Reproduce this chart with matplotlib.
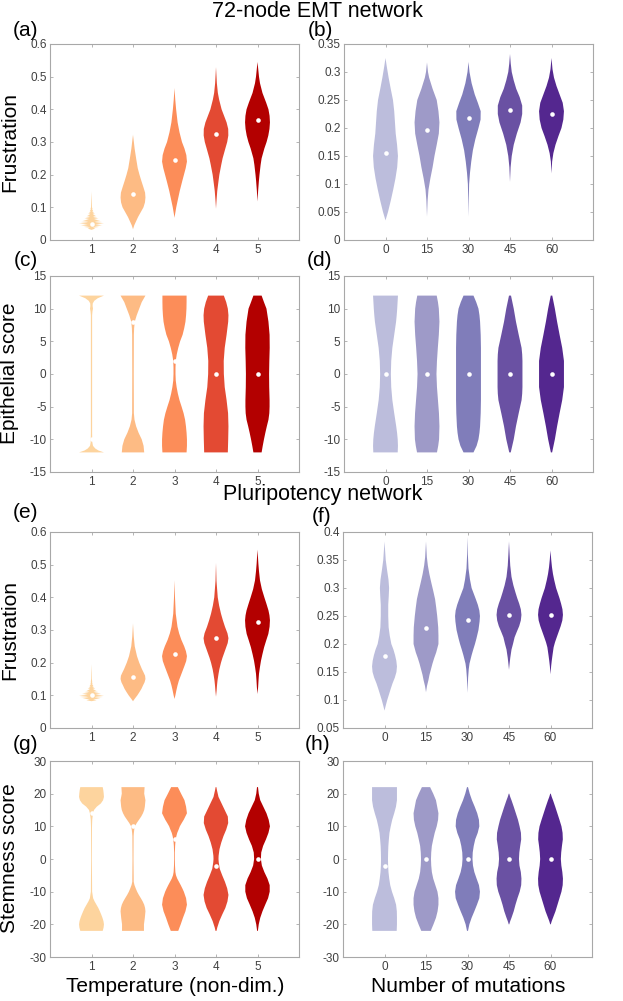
import matplotlib
matplotlib.use("Agg")
import matplotlib.pyplot as plt
from matplotlib.ticker import FuncFormatter
import numpy as np

plt.rcParams['font.family'] = ['Liberation Sans', 'DejaVu Sans']

temp_labels = ['1', '2', '3', '4', '5']
mut_labels = ['0', '15', '30', '45', '60']

oranges = ['#fdd49e', '#fdbb84', '#fc8d59', '#e34a33', '#b30000']
purples = ['#bcbddc', '#9e9ac8', '#807dba', '#6a51a3', '#54278f']

# each violin: value levels and relative half-width (1 = widest point)
# (a) EMT, frustration vs temperature
a_y = [
    [0.031, 0.035, 0.0375, 0.04, 0.0425, 0.045, 0.0475, 0.05, 0.0525, 0.055, 0.0575, 0.06, 0.0625, 0.065,
     0.0675, 0.07, 0.0725, 0.075, 0.0775, 0.08, 0.0825, 0.085, 0.0875, 0.09, 0.0925, 0.095, 0.1, 0.12, 0.148],
    [0.033, 0.045, 0.06, 0.07, 0.085, 0.1, 0.115, 0.13, 0.145, 0.16, 0.18, 0.2, 0.22, 0.25, 0.28, 0.3, 0.322],
    [0.068, 0.08, 0.1, 0.12, 0.15, 0.18, 0.2, 0.22, 0.24, 0.26, 0.28, 0.3, 0.33, 0.36, 0.4, 0.43, 0.465],
    [0.096, 0.12, 0.15, 0.18, 0.2, 0.23, 0.25, 0.28, 0.3, 0.32, 0.34, 0.36, 0.38, 0.4, 0.43, 0.45, 0.48, 0.529],
    [0.118, 0.15, 0.18, 0.2, 0.23, 0.25, 0.28, 0.3, 0.32, 0.34, 0.36, 0.38, 0.4, 0.42, 0.45, 0.48, 0.5, 0.545],
]
a_w = [
    [0, 0.3, 0.12, 0.6, 0.22, 0.85, 0.3, 1.0, 0.3, 0.85, 0.25, 0.7, 0.2, 0.55, 0.16, 0.45, 0.12, 0.35, 0.1,
     0.27, 0.08, 0.2, 0.06, 0.13, 0.05, 0.08, 0.04, 0.025, 0],
    [0, 0.1, 0.28, 0.4, 0.62, 0.84, 0.96, 1.0, 0.97, 0.85, 0.68, 0.52, 0.38, 0.25, 0.13, 0.07, 0],
    [0, 0.05, 0.14, 0.25, 0.42, 0.62, 0.76, 0.9, 1.0, 0.95, 0.8, 0.6, 0.4, 0.25, 0.13, 0.06, 0],
    [0, 0.04, 0.1, 0.2, 0.27, 0.42, 0.53, 0.75, 0.9, 0.99, 0.98, 0.85, 0.65, 0.45, 0.25, 0.15, 0.07, 0],
    [0, 0.05, 0.11, 0.16, 0.25, 0.33, 0.55, 0.73, 0.87, 0.96, 1.0, 0.97, 0.88, 0.7, 0.4, 0.2, 0.12, 0],
]
a_med = [0.05, 0.14, 0.246, 0.323, 0.366]

# (b) EMT, frustration vs mutations
b_y = [
    [0.035, 0.05, 0.07, 0.09, 0.11, 0.13, 0.15, 0.17, 0.19, 0.21, 0.23, 0.25, 0.27, 0.29, 0.31, 0.325],
    [0.042, 0.07, 0.09, 0.11, 0.13, 0.15, 0.17, 0.19, 0.21, 0.23, 0.25, 0.27, 0.29, 0.3, 0.317],
    [0.042, 0.07, 0.1, 0.12, 0.14, 0.16, 0.18, 0.2, 0.215, 0.23, 0.245, 0.26, 0.28, 0.3, 0.318],
    [0.104, 0.13, 0.15, 0.17, 0.19, 0.21, 0.225, 0.24, 0.255, 0.27, 0.285, 0.3, 0.315, 0.332],
    [0.119, 0.14, 0.155, 0.17, 0.185, 0.2, 0.215, 0.23, 0.245, 0.26, 0.275, 0.29, 0.305, 0.325],
]
b_w = [
    [0, 0.2, 0.42, 0.62, 0.8, 0.94, 1.0, 0.93, 0.82, 0.76, 0.7, 0.6, 0.42, 0.25, 0.1, 0],
    [0, 0.05, 0.12, 0.27, 0.45, 0.6, 0.78, 0.95, 1.0, 0.92, 0.78, 0.45, 0.17, 0.08, 0],
    [0, 0.02, 0.05, 0.12, 0.22, 0.35, 0.55, 0.8, 0.97, 0.98, 0.75, 0.5, 0.25, 0.08, 0],
    [0, 0.05, 0.14, 0.3, 0.55, 0.85, 0.98, 0.98, 0.78, 0.5, 0.3, 0.14, 0.06, 0],
    [0, 0.05, 0.15, 0.32, 0.55, 0.8, 0.95, 1.0, 0.9, 0.65, 0.4, 0.2, 0.08, 0],
]
b_med = [0.155, 0.197, 0.218, 0.232, 0.225]

# (c) EMT, epithelial score vs temperature
c_y = [
    [-12, -11.7, -11.4, -11, -10.5, -10, -9, 0, 9, 9.6, 10, 10.4, 10.8, 11.2, 11.6, 12],
    [-12, -11, -10, -9, -8, -7, -6, 0, 6, 7, 8, 9, 10, 11, 12],
    [-12, -11, -10, -9, -8, -7, -6, -5, -4, -3, -2, -1, 0, 1, 2, 3, 4, 5, 6, 7, 8, 9, 10, 11, 12],
    [-12, -10, -8, -6, -4, -2, 0, 2, 4, 6, 8, 9, 10, 11, 12],
    [-12, -11, -10, -9, -8, -7, -6, -5, -4, -2, 0, 2, 4, 6, 8, 9, 10, 11, 12],
]
c_w = [
    [1.0, 0.55, 0.3, 0.12, 0.07, 0.06, 0.05, 0.05, 0.05, 0.08, 0.12, 0.09, 0.1, 0.22, 0.5, 1.0],
    [0.9, 0.85, 0.7, 0.45, 0.25, 0.12, 0.07, 0.06, 0.07, 0.09, 0.14, 0.3, 0.5, 0.7, 1.0],
    [0.97, 1.0, 1.0, 0.97, 0.92, 0.85, 0.73, 0.57, 0.4, 0.27, 0.17, 0.1, 0.08, 0.08, 0.1, 0.18, 0.3, 0.45,
     0.65, 0.78, 0.88, 0.93, 0.96, 0.97, 0.97],
    [0.95, 0.98, 1.0, 0.97, 0.85, 0.7, 0.63, 0.62, 0.7, 0.85, 0.98, 1.0, 0.95, 0.82, 0.63],
    [0.33, 0.42, 0.52, 0.63, 0.75, 0.88, 0.95, 0.97, 0.97, 0.94, 0.93, 0.95, 0.98, 0.97, 0.88, 0.8, 0.72,
     0.52, 0.33],
]
c_med = [-10, 8, 2, 0, 0]

# (d) EMT, epithelial score vs mutations
d_y = [
    [-12, -11, -10, -9, -8, -6, -4, -2, 0, 2, 4, 6, 8, 9, 10, 11, 12],
    [-12, -11, -10, -8, -6, -4, -2, 0, 2, 4, 6, 8, 10, 11, 12],
    [-12, -11, -10, -9, -8, -6, -4, -2, 0, 2, 4, 6, 8, 9, 10, 11, 12],
    [-12, -10, -8, -6, -4, -3, -2, 0, 2, 3, 4, 6, 8, 10, 12],
    [-12, -10, -8, -6, -4, -2, 0, 2, 4, 6, 8, 10, 12],
]
d_w = [
    [0.98, 1.0, 0.98, 0.93, 0.86, 0.7, 0.55, 0.46, 0.43, 0.46, 0.55, 0.7, 0.85, 0.9, 0.94, 0.97, 1.0],
    [0.8, 0.9, 0.97, 1.0, 0.96, 0.88, 0.8, 0.76, 0.8, 0.87, 0.95, 1.0, 0.95, 0.88, 0.78],
    [0.4, 0.65, 0.8, 0.88, 0.93, 0.98, 1.0, 1.0, 1.0, 1.0, 1.0, 0.98, 0.93, 0.88, 0.8, 0.62, 0.4],
    [0.06, 0.3, 0.48, 0.7, 0.93, 0.98, 1.0, 1.0, 1.0, 0.98, 0.93, 0.7, 0.48, 0.3, 0.08],
    [0.05, 0.27, 0.45, 0.65, 0.86, 1.0, 1.0, 1.0, 0.86, 0.65, 0.45, 0.27, 0.06],
]
d_med = [0, 0, 0, 0, 0]

# (e) pluripotency, frustration vs temperature
e_y = [
    [0.082, 0.085, 0.0875, 0.09, 0.0925, 0.095, 0.0975, 0.1, 0.1025, 0.105, 0.1075, 0.11, 0.1125, 0.115,
     0.1175, 0.12, 0.1225, 0.125, 0.1275, 0.13, 0.1325, 0.135, 0.1375, 0.14, 0.15, 0.17, 0.195],
    [0.082, 0.09, 0.1, 0.11, 0.12, 0.13, 0.14, 0.15, 0.16, 0.17, 0.18, 0.2, 0.22, 0.25, 0.28, 0.3, 0.32],
    [0.089, 0.1, 0.115, 0.13, 0.145, 0.16, 0.175, 0.19, 0.205, 0.22, 0.235, 0.25, 0.27, 0.29, 0.31, 0.35,
     0.4, 0.452],
    [0.096, 0.115, 0.13, 0.145, 0.165, 0.18, 0.2, 0.215, 0.23, 0.245, 0.26, 0.275, 0.29, 0.31, 0.33, 0.35,
     0.375, 0.4, 0.45, 0.505],
    [0.104, 0.125, 0.145, 0.166, 0.185, 0.206, 0.225, 0.247, 0.268, 0.288, 0.31, 0.33, 0.345, 0.36, 0.38,
     0.4, 0.425, 0.452, 0.48, 0.503, 0.546],
]
e_w = [
    [0, 0.4, 0.14, 0.7, 0.24, 0.9, 0.3, 1.0, 0.3, 0.75, 0.22, 0.55, 0.17, 0.4, 0.12, 0.3, 0.09, 0.22, 0.07,
     0.15, 0.05, 0.1, 0.04, 0.06, 0.03, 0.02, 0],
    [0, 0.15, 0.35, 0.52, 0.68, 0.8, 0.93, 1.0, 0.97, 0.85, 0.72, 0.5, 0.32, 0.14, 0.06, 0.03, 0],
    [0, 0.07, 0.15, 0.24, 0.35, 0.5, 0.65, 0.8, 0.94, 1.0, 0.92, 0.78, 0.55, 0.37, 0.24, 0.1, 0.04, 0],
    [0, 0.05, 0.08, 0.12, 0.2, 0.27, 0.4, 0.52, 0.66, 0.8, 0.94, 1.0, 0.92, 0.72, 0.55, 0.4, 0.25, 0.14,
     0.04, 0],
    [0, 0.05, 0.08, 0.12, 0.19, 0.28, 0.39, 0.53, 0.7, 0.87, 0.97, 1.0, 0.96, 0.88, 0.72, 0.55, 0.35, 0.2,
     0.12, 0.07, 0],
]
e_med = [0.1, 0.155, 0.228, 0.276, 0.325]

# (f) pluripotency, frustration vs mutations
f_y = [
    [0.081, 0.09, 0.1, 0.11, 0.12, 0.13, 0.14, 0.15, 0.16, 0.17, 0.18, 0.19, 0.2, 0.215, 0.23, 0.25, 0.27,
     0.285, 0.3, 0.315, 0.33, 0.35, 0.383],
    [0.114, 0.125, 0.135, 0.145, 0.155, 0.165, 0.175, 0.185, 0.2, 0.215, 0.23, 0.25, 0.265, 0.28, 0.295,
     0.31, 0.325, 0.34, 0.355, 0.383],
    [0.113, 0.13, 0.14, 0.155, 0.165, 0.18, 0.19, 0.2, 0.21, 0.225, 0.24, 0.25, 0.26, 0.27, 0.28, 0.29, 0.3,
     0.315, 0.335, 0.36, 0.391],
    [0.154, 0.165, 0.175, 0.19, 0.2, 0.212, 0.222, 0.232, 0.242, 0.252, 0.262, 0.272, 0.282, 0.292, 0.305,
     0.32, 0.34, 0.36, 0.383],
    [0.146, 0.16, 0.17, 0.18, 0.194, 0.203, 0.212, 0.222, 0.232, 0.242, 0.252, 0.262, 0.272, 0.282, 0.29,
     0.3, 0.314, 0.325, 0.337, 0.35, 0.367],
]
f_w = [
    [0, 0.1, 0.22, 0.36, 0.5, 0.65, 0.83, 0.96, 1.0, 0.95, 0.85, 0.72, 0.55, 0.42, 0.33, 0.3, 0.3, 0.34,
     0.37, 0.32, 0.22, 0.1, 0],
    [0, 0.08, 0.19, 0.28, 0.4, 0.52, 0.66, 0.82, 1.0, 1.0, 0.98, 0.9, 0.82, 0.73, 0.58, 0.42, 0.27, 0.15,
     0.07, 0],
    [0, 0.03, 0.05, 0.1, 0.16, 0.33, 0.46, 0.6, 0.72, 0.88, 0.97, 1.0, 0.95, 0.83, 0.67, 0.5, 0.33, 0.2,
     0.08, 0.03, 0],
    [0, 0.05, 0.1, 0.2, 0.32, 0.45, 0.63, 0.82, 0.95, 1.0, 0.95, 0.82, 0.66, 0.52, 0.35, 0.2, 0.1, 0.05, 0],
    [0, 0.05, 0.1, 0.16, 0.25, 0.36, 0.5, 0.66, 0.82, 0.95, 1.0, 0.96, 0.85, 0.72, 0.6, 0.45, 0.3, 0.2,
     0.12, 0.06, 0],
]
f_med = [0.178, 0.228, 0.243, 0.252, 0.252]

# (g) pluripotency, stemness score vs temperature
g_y = [
    [-22, -21, -20, -19, -18, -17, -16, -15, -14, -13, -12, -10, 0, 10, 12, 13, 14, 15, 16, 17, 18, 19, 20,
     21, 22],
    [-22, -20, -18, -16, -15, -14, -13, -12, -11, -10, -9, -8, -7, 0, 7, 8, 9, 10, 11, 12, 13, 14, 15, 16,
     18, 20, 22],
    [-22, -20, -18, -16, -14, -12, -10, -9, -8, -7, -6, -5, -4, -2, 0, 2, 4, 5, 6, 7, 8, 9, 10, 11, 12, 14,
     16, 18, 20, 22],
    [-22, -21, -19, -17, -15, -13, -11, -9, -7, -5, -3, -1, 0, 1, 3, 5, 7, 9, 11, 13, 15, 17, 19, 21, 22],
    [-22, -20, -18, -16, -14, -12, -10, -8, -6, -4, -2, 0, 2, 4, 6, 8, 10, 12, 14, 16, 18, 20, 22],
]
g_w = [
    [0.9, 0.97, 1.0, 0.96, 0.88, 0.78, 0.67, 0.55, 0.4, 0.25, 0.13, 0.05, 0.03, 0.04, 0.06, 0.09, 0.13, 0.2,
     0.42, 0.75, 0.93, 1.0, 0.98, 0.95, 0.9],
    [0.88, 0.88, 0.95, 1.0, 0.97, 0.9, 0.78, 0.63, 0.47, 0.33, 0.22, 0.12, 0.06, 0.04, 0.05, 0.07, 0.1, 0.15,
     0.3, 0.48, 0.66, 0.8, 0.9, 0.95, 1.0, 0.9, 0.93],
    [0.3, 0.5, 0.68, 0.88, 1.0, 0.93, 0.75, 0.63, 0.5, 0.36, 0.22, 0.12, 0.07, 0.04, 0.03, 0.03, 0.05, 0.07,
     0.1, 0.15, 0.22, 0.33, 0.43, 0.58, 0.74, 1.0, 0.93, 0.8, 0.53, 0.27],
    [0.04, 0.1, 0.27, 0.5, 0.75, 0.92, 1.0, 0.9, 0.72, 0.5, 0.3, 0.22, 0.2, 0.21, 0.28, 0.42, 0.6, 0.82, 0.98,
     0.95, 0.7, 0.45, 0.2, 0.08, 0.03],
    [0.03, 0.1, 0.22, 0.4, 0.62, 0.85, 0.98, 0.98, 0.8, 0.55, 0.35, 0.27, 0.3, 0.45, 0.68, 0.88, 1.0, 0.9,
     0.72, 0.47, 0.22, 0.1, 0.04],
]
g_med = [14, 10, 6, -2, 0]

# (h) pluripotency, stemness score vs mutations
h_y = [
    [-22, -20, -18, -16, -14, -12, -10, -8, -6, -4, -2, 0, 2, 4, 6, 8, 10, 12, 14, 16, 18, 20, 22],
    [-22, -20, -18, -16, -14, -12, -10, -8, -6, -4, -2, 0, 2, 4, 6, 8, 10, 12, 14, 16, 18, 20, 22],
    [-22, -20, -18, -16, -14, -12, -10, -8, -6, -4, -2, 0, 2, 4, 6, 8, 10, 12, 14, 16, 18, 20, 22],
    [-20, -19, -18, -16, -14, -12, -10, -8, -6, -4, -2, 0, 2, 4, 6, 8, 10, 12, 14, 16, 18, 19, 20],
    [-20, -19, -18, -16, -14, -12, -10, -8, -6, -4, -2, 0, 2, 4, 6, 8, 10, 12, 14, 16, 18, 19, 20],
]
h_w = [
    [0.98, 1.0, 1.0, 0.99, 0.93, 0.78, 0.6, 0.46, 0.38, 0.32, 0.29, 0.28, 0.29, 0.31, 0.35, 0.4, 0.5, 0.62,
     0.78, 0.92, 1.0, 1.0, 1.0],
    [0.38, 0.6, 0.8, 0.93, 1.0, 1.0, 0.92, 0.75, 0.58, 0.47, 0.42, 0.4, 0.42, 0.47, 0.58, 0.7, 0.86, 0.97,
     1.0, 0.9, 0.8, 0.58, 0.33],
    [0.04, 0.15, 0.33, 0.55, 0.76, 0.95, 1.0, 0.92, 0.73, 0.55, 0.44, 0.4, 0.42, 0.5, 0.62, 0.82, 0.95, 0.92,
     0.78, 0.58, 0.36, 0.18, 0.04],
    [0.02, 0.1, 0.2, 0.38, 0.52, 0.68, 0.86, 0.98, 1.0, 0.95, 0.84, 0.8, 0.83, 0.9, 0.98, 0.96, 0.85, 0.72,
     0.55, 0.38, 0.2, 0.1, 0.02],
    [0.02, 0.1, 0.2, 0.4, 0.56, 0.72, 0.88, 0.98, 1.0, 0.95, 0.87, 0.83, 0.86, 0.92, 0.99, 0.97, 0.88, 0.72,
     0.55, 0.38, 0.2, 0.1, 0.02],
]
h_med = [-2, 0, 0, 0, 0]

W, H = 623, 1001
fig = plt.figure(figsize=(W / 100, H / 100), dpi=100)

spine_col = '#a8a8a8'
tick_col = '#404040'


def add_axes(left, top, width=249, height=196):
    return fig.add_axes([left / W, 1 - (top + height) / H, width / W, height / H])


def draw_panel(ax, levels, widths, medians, colors, ylim, ystep, xlabels):
    for i in range(len(levels)):
        pos = i + 1
        yy = np.array(levels[i])
        hw = 0.3 * np.array(widths[i])
        ax.fill_betweenx(yy, pos - hw, pos + hw, facecolor=colors[i], edgecolor='none')
        ax.plot(pos, medians[i], 'o', color='white', ms=3.3, mec='none', zorder=3)
    ax.set_xlim(0, 6)
    ax.set_ylim(*ylim)
    ax.set_xticks(range(1, 6))
    ax.set_xticklabels(xlabels)
    ax.set_yticks(np.round(np.arange(ylim[0], ylim[1] + ystep / 2, ystep), 4))
    ax.yaxis.set_major_formatter(FuncFormatter(lambda v, p: f'{v:g}'))
    ax.tick_params(direction='in', length=2.5, width=0.6, color=spine_col, labelcolor=tick_col,
                   labelsize=8.5, top=True, right=True)
    ax.tick_params(axis='y', pad=2.5)
    ax.tick_params(axis='x', pad=3.0)
    for s in ax.spines.values():
        s.set_color(spine_col)
        s.set_linewidth(0.8)


ax_a = add_axes(50, 44)
ax_b = add_axes(344, 44)
ax_c = add_axes(50, 276)
ax_d = add_axes(344, 276)
ax_e = add_axes(50, 532)
ax_f = add_axes(343, 532)
ax_g = add_axes(50, 761)
ax_h = add_axes(343, 761)

draw_panel(ax_a, a_y, a_w, a_med, oranges, (0, 0.6), 0.1, temp_labels)
draw_panel(ax_b, b_y, b_w, b_med, purples, (0, 0.35), 0.05, mut_labels)
draw_panel(ax_c, c_y, c_w, c_med, oranges, (-15, 15), 5, temp_labels)
draw_panel(ax_d, d_y, d_w, d_med, purples, (-15, 15), 5, mut_labels)
draw_panel(ax_e, e_y, e_w, e_med, oranges, (0, 0.6), 0.1, temp_labels)
draw_panel(ax_f, f_y, f_w, f_med, purples, (0.05, 0.4), 0.05, mut_labels)
draw_panel(ax_g, g_y, g_w, g_med, oranges, (-30, 30), 10, temp_labels)
draw_panel(ax_h, h_y, h_w, h_med, purples, (-30, 30), 10, mut_labels)


def ftext(x, y, s, size=15, **kw):
    fig.text(x / W, 1 - y / H, s, fontsize=size, color='black', **kw)


# section titles
ftext(317, 17, '72-node EMT network', size=15.5, ha='center', va='baseline')
ftext(323, 500, 'Pluripotency network', size=15.5, ha='center', va='baseline')

# panel letters
for lab, x, y in [('(a)', 26, 30), ('(b)', 320, 30), ('(c)', 26, 260), ('(d)', 319, 260),
                  ('(e)', 26, 513), ('(f)', 322, 516), ('(g)', 26, 745), ('(h)', 318, 745)]:
    ftext(x, y, lab, ha='center', va='center')

# y labels
ftext(10, 142, 'Frustration', rotation=90, ha='center', va='center')
ftext(10, 373, 'Epithelial score', rotation=90, ha='center', va='center')
ftext(10, 630, 'Frustration', rotation=90, ha='center', va='center')
ftext(10, 858, 'Stemness score', rotation=90, ha='center', va='center')

# x labels
ftext(175, 986, 'Temperature (non-dim.)', ha='center', va='center')
ftext(468, 986, 'Number of mutations', ha='center', va='center')

fig.savefig('out.png', dpi=100)
